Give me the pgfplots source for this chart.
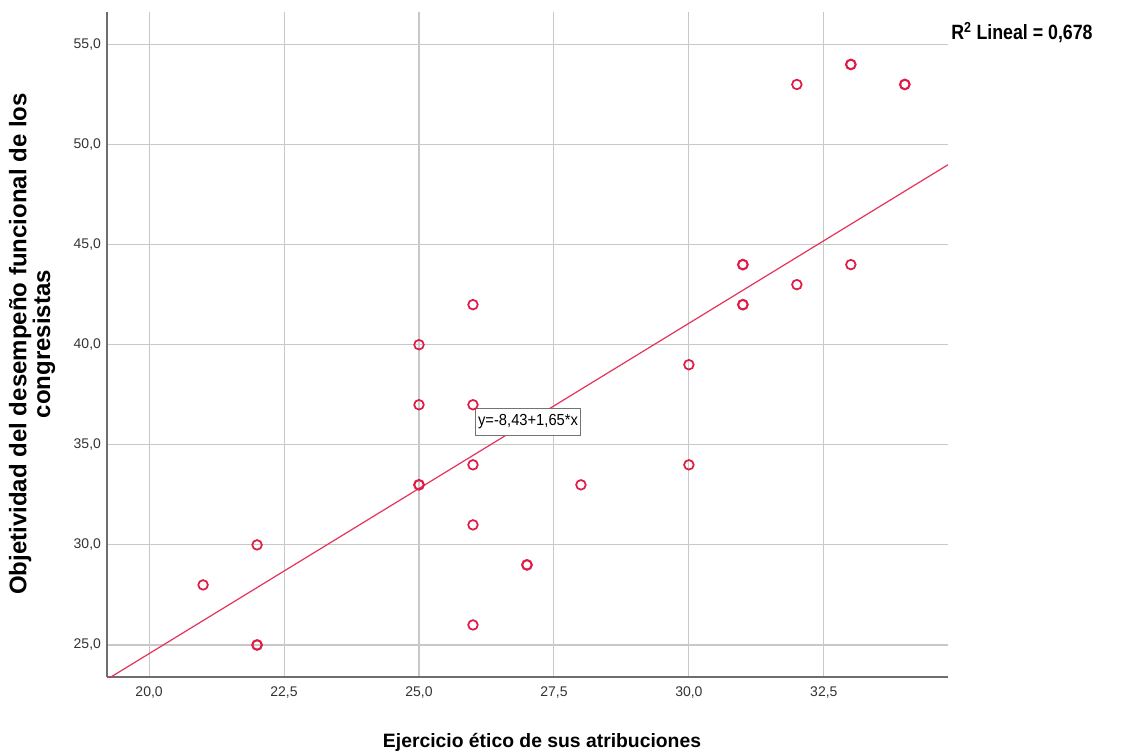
\documentclass[border=0pt]{standalone}
\usepackage{pgfplots}
\pgfplotsset{compat=1.18}
\usepackage{fontspec}
\setmainfont{Liberation Sans}
\definecolor{pt}{RGB}{222,28,72}
\definecolor{ln}{RGB}{228,50,90}
\definecolor{gridc}{RGB}{200,200,200}
\definecolor{spine}{RGB}{110,110,110}
\begin{document}
\begin{tikzpicture}[x=0.75pt,y=0.75pt]
\path[use as bounding box] (0,0) rectangle (1128,754);
\begin{axis}[
  at={(107*0.75pt,77*0.75pt)}, anchor=south west,
  scale only axis, width=841*0.75pt, height=665*0.75pt,
  xmin=19.22, xmax=34.8, ymin=23.4, ymax=56.62,
  axis x line*=bottom, axis y line*=left,
  axis line style={spine, line width=0.9pt, -},
  xtick={20,22.5,...,32.5}, ytick={25,30,...,55},
  grid=major, major grid style={gridc, line width=0.8pt},
  tick style={draw=none},
  /pgf/number format/assume math mode=true,
  /pgf/number format/.cd, fixed, fixed zerofill, precision=1, use comma,
  /pgfplots/.cd,
  ticklabel style={font=\fontsize{10.5}{12}\selectfont, text=black!80},
  xticklabel style={yshift=-4pt},
  yticklabel style={xshift=-1pt},
  clip=true,
]
\addplot[ln, line width=0.9pt] coordinates {(19.22,23.28) (34.8,48.99)};
\addplot[only marks, mark=o, mark size=3.6pt, mark options={pt, line width=1.3pt}] coordinates {
(21,28) (22,30) (25,40) (25,37) (26,42) (26,37) (26,34) (26,31) (26,26)
(28,33) (30,39) (30,34) (32,53) (32,43) (33,44)
};
\addplot[only marks, mark=o, mark size=3.6pt, mark options={pt, line width=1.6pt}] coordinates {
(22,25) (25,33) (27,29) (31,44) (31,42) (33,54) (34,53)
};
\node[draw=black!55, fill=white, inner xsep=2pt, inner ysep=5pt, font=\fontsize{12}{13}\selectfont] at (axis cs:27.02,36.15) {\scalebox{0.92}[1]{y=-8,43+1,65*x}};
\end{axis}
\node[font=\fontsize{14.5}{16}\selectfont\bfseries] at (542,754-742) {Ejercicio ético de sus atribuciones};
\node[font=\fontsize{18}{15}\selectfont\bfseries, rotate=90, align=center] at (32,754-344) {Objetividad del desempeño funcional de los\\congresistas};
\node[anchor=west, font=\fontsize{15.5}{16}\selectfont\bfseries, inner sep=0pt] at (951,754-33) {\scalebox{0.86}[1]{R\textsuperscript{2} Lineal = 0,678}};
\end{tikzpicture}
\end{document}
